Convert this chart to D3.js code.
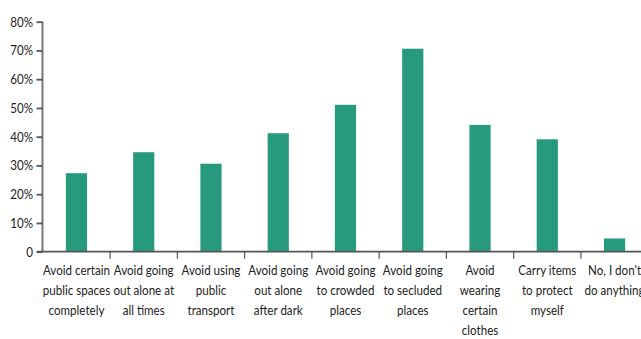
<!DOCTYPE html>
<html>
<head>
<meta charset="utf-8">
<script src="https://cdn.jsdelivr.net/npm/d3@7"></script>
<style>
  body { margin: 0; background: #fff; }
  text { font-family: Lato, "Liberation Sans", sans-serif; fill: #222; }
</style>
</head>
<body>
<div id="canvas"></div>
<script>
// categories, one entry per bar (line breaks as in the original)
const categories = [
    ["Avoid certain", "public spaces", "completely"],
    ["Avoid going", "out alone at", "all times"],
    ["Avoid using", "public", "transport"],
    ["Avoid going", "out alone", "after dark"],
    ["Avoid going", "to crowded", "places"],
    ["Avoid going", "to secluded", "places"],
    ["Avoid", "wearing", "certain", "clothes"],
    ["Carry items", "to protect", "myself"],
    ["No, I don't", "do anything"]
];
const values = [27.3, 34.6, 30.6, 41.2, 51.1, 70.6, 44.1, 39.1, 4.6];
const yTicks = [0, 10, 20, 30, 40, 50, 60, 70, 80];

const W = 641, H = 339;
const squeeze = 0.86; // the original uses a condensed face
const svg = d3.select("#canvas").append("svg")
    .attr("width", W)
    .attr("height", H);

// scales
const x = d3.scaleBand()
    .domain(d3.range(categories.length))
    .range([43, 648])
    .paddingInner(0.685)
    .paddingOuter(0.34);
const y = d3.scaleLinear()
    .domain([0, 80])
    .range([251.7, 21.7]);

// bars
svg.selectAll(".bar")
    .data(values)
    .join("rect")
    .attr("class", "bar")
    .attr("x", (d, i) => x(i))
    .attr("y", d => y(d))
    .attr("width", x.bandwidth())
    .attr("height", d => y(0) - y(d))
    .style("fill", "#279a7e");

// y axis
const yAxis = svg.append("g")
    .attr("transform", "translate(42.5,0)")
    .call(d3.axisLeft(y)
        .tickValues(yTicks)
        .tickSize(6)
        .tickFormat(d => d === 0 ? "0" : d + "%"));
yAxis.select(".domain").attr("d", `M0,${y(80)}V${y(0)}`).attr("stroke", "#777").attr("stroke-width", 2);
yAxis.selectAll(".tick line").attr("stroke", "#555").attr("stroke-width", 1.8);
yAxis.selectAll(".tick text")
    .attr("x", -9.5 / squeeze)
    .attr("transform", `scale(${squeeze},1)`)
    .style("font-size", "13.5px")
    .attr("fill", "#222");

// x axis: line with ticks at band boundaries
const step = x.step();
const bounds = d3.range(1, categories.length).map(i => x(i) - x.paddingInner() * step / 2);
svg.append("line")
    .attr("x1", 37).attr("x2", W)
    .attr("y1", y(0)).attr("y2", y(0))
    .attr("stroke", "#555").attr("stroke-width", 1.8);
svg.selectAll(".xtick")
    .data(bounds)
    .join("line")
    .attr("class", "xtick")
    .attr("x1", d => d).attr("x2", d => d)
    .attr("y1", y(0)).attr("y2", y(0) + 7)
    .attr("stroke", "#555").attr("stroke-width", 1.2);

// category labels
const labels = svg.selectAll(".xlabel")
    .data(categories)
    .join("g")
    .attr("class", "xlabel")
    .attr("transform", (d, i) => `translate(${x(i) + x.bandwidth() / 2},0) scale(${squeeze},1)`)
    .append("text")
    .attr("text-anchor", "middle")
    .style("font-size", "13.5px");
labels.selectAll("tspan")
    .data(lines => lines)
    .join("tspan")
    .attr("x", 0)
    .attr("y", (d, j) => 275.5 + j * 20)
    .text(d => d);
</script>
</body>
</html>
